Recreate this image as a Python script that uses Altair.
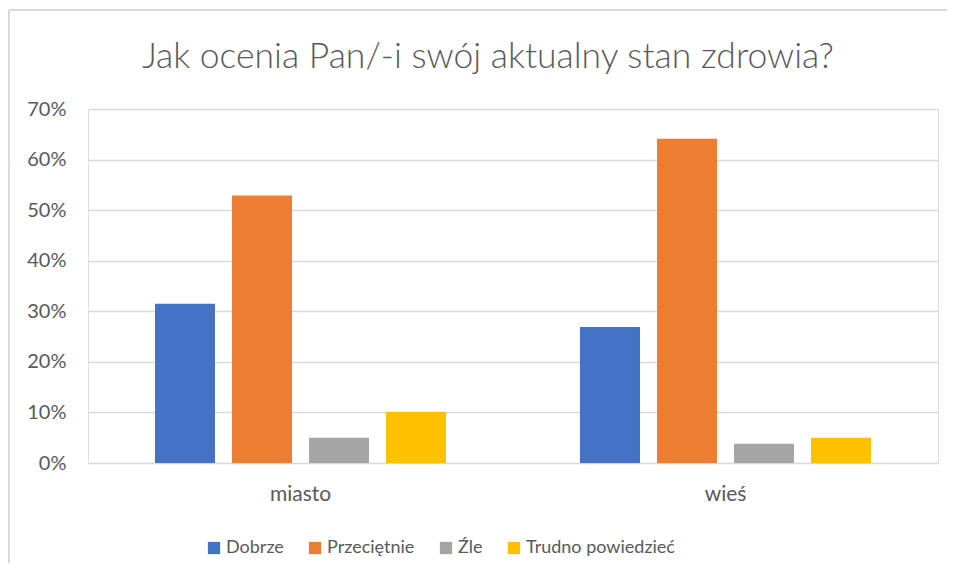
import altair as alt
import pandas as pd

categories = ["miasto", "wieś"]
series = ["Dobrze", "Przeciętnie", "Źle", "Trudno powiedzieć"]
miasto = [0.315, 0.529, 0.050, 0.101]
wies = [0.269, 0.641, 0.038, 0.050]
colors = ["#4472C4", "#ED7D31", "#A5A5A5", "#FFC000"]
y_ticks = [0, 0.1, 0.2, 0.3, 0.4, 0.5, 0.6, 0.7]

rows = []
for s, m, w in zip(series, miasto, wies):
    rows.append({"kategoria": "miasto", "seria": s, "wartosc": m})
    rows.append({"kategoria": "wieś", "seria": s, "wartosc": w})
df = pd.DataFrame(rows)

FONT = "Lato"
TXT = "#595959"
GRID = "#D9D9D9"

bars = alt.Chart(df).mark_bar().encode(
    x=alt.X("kategoria:N", sort=categories,
            scale=alt.Scale(paddingInner=0, paddingOuter=0),
            axis=alt.Axis(title=None, labelAngle=0, domain=False, ticks=False,
                          labelPadding=20, labelFontSize=21, labelColor=TXT,
                          labelFont=FONT)),
    xOffset=alt.XOffset("seria:N", sort=series,
                        scale=alt.Scale(paddingInner=0.221, paddingOuter=0.87)),
    y=alt.Y("wartosc:Q", scale=alt.Scale(domain=[0, 0.7]),
            axis=alt.Axis(title=None, format=".0%", values=y_ticks, grid=True,
                          gridColor=GRID, gridWidth=1.5, domain=False, ticks=False,
                          labelPadding=22, labelFontSize=20, labelColor=TXT,
                          labelFont=FONT)),
    color=alt.Color("seria:N", sort=series,
                    scale=alt.Scale(domain=series, range=colors),
                    legend=alt.Legend(title=None, orient="none", direction="horizontal",
                                      legendX=117, legendY=430, symbolType="square",
                                      symbolSize=150, symbolStrokeWidth=0,
                                      labelFontSize=18, labelColor=TXT, labelFont=FONT,
                                      labelOffset=3, columnPadding=22)),
)

border_df = pd.DataFrame({"k": [0]})
left_border = alt.Chart(border_df).mark_rule(color=GRID, strokeWidth=2).encode(
    x=alt.value(-79), y=alt.value(-99), y2=alt.value(480))
top_border = alt.Chart(border_df).mark_rule(color=GRID, strokeWidth=2).encode(
    x=alt.value(-79), x2=alt.value(859), y=alt.value(-99))

chart = alt.layer(bars, left_border, top_border).properties(
    width=850, height=354,
    autosize=alt.AutoSizeParams(type="none"),
    padding={"left": 80, "top": 101, "right": 9, "bottom": 100},
    title=alt.TitleParams("Jak ocenia Pan/-i swój aktualny stan zdrowia?",
                          fontSize=35.5, font=FONT, fontWeight=300, color=TXT,
                          anchor="middle", dx=-25, offset=-66),
).configure_view(stroke=None).configure(background="white")

chart.save("out.html", embed_options={"renderer": "svg", "actions": False})
